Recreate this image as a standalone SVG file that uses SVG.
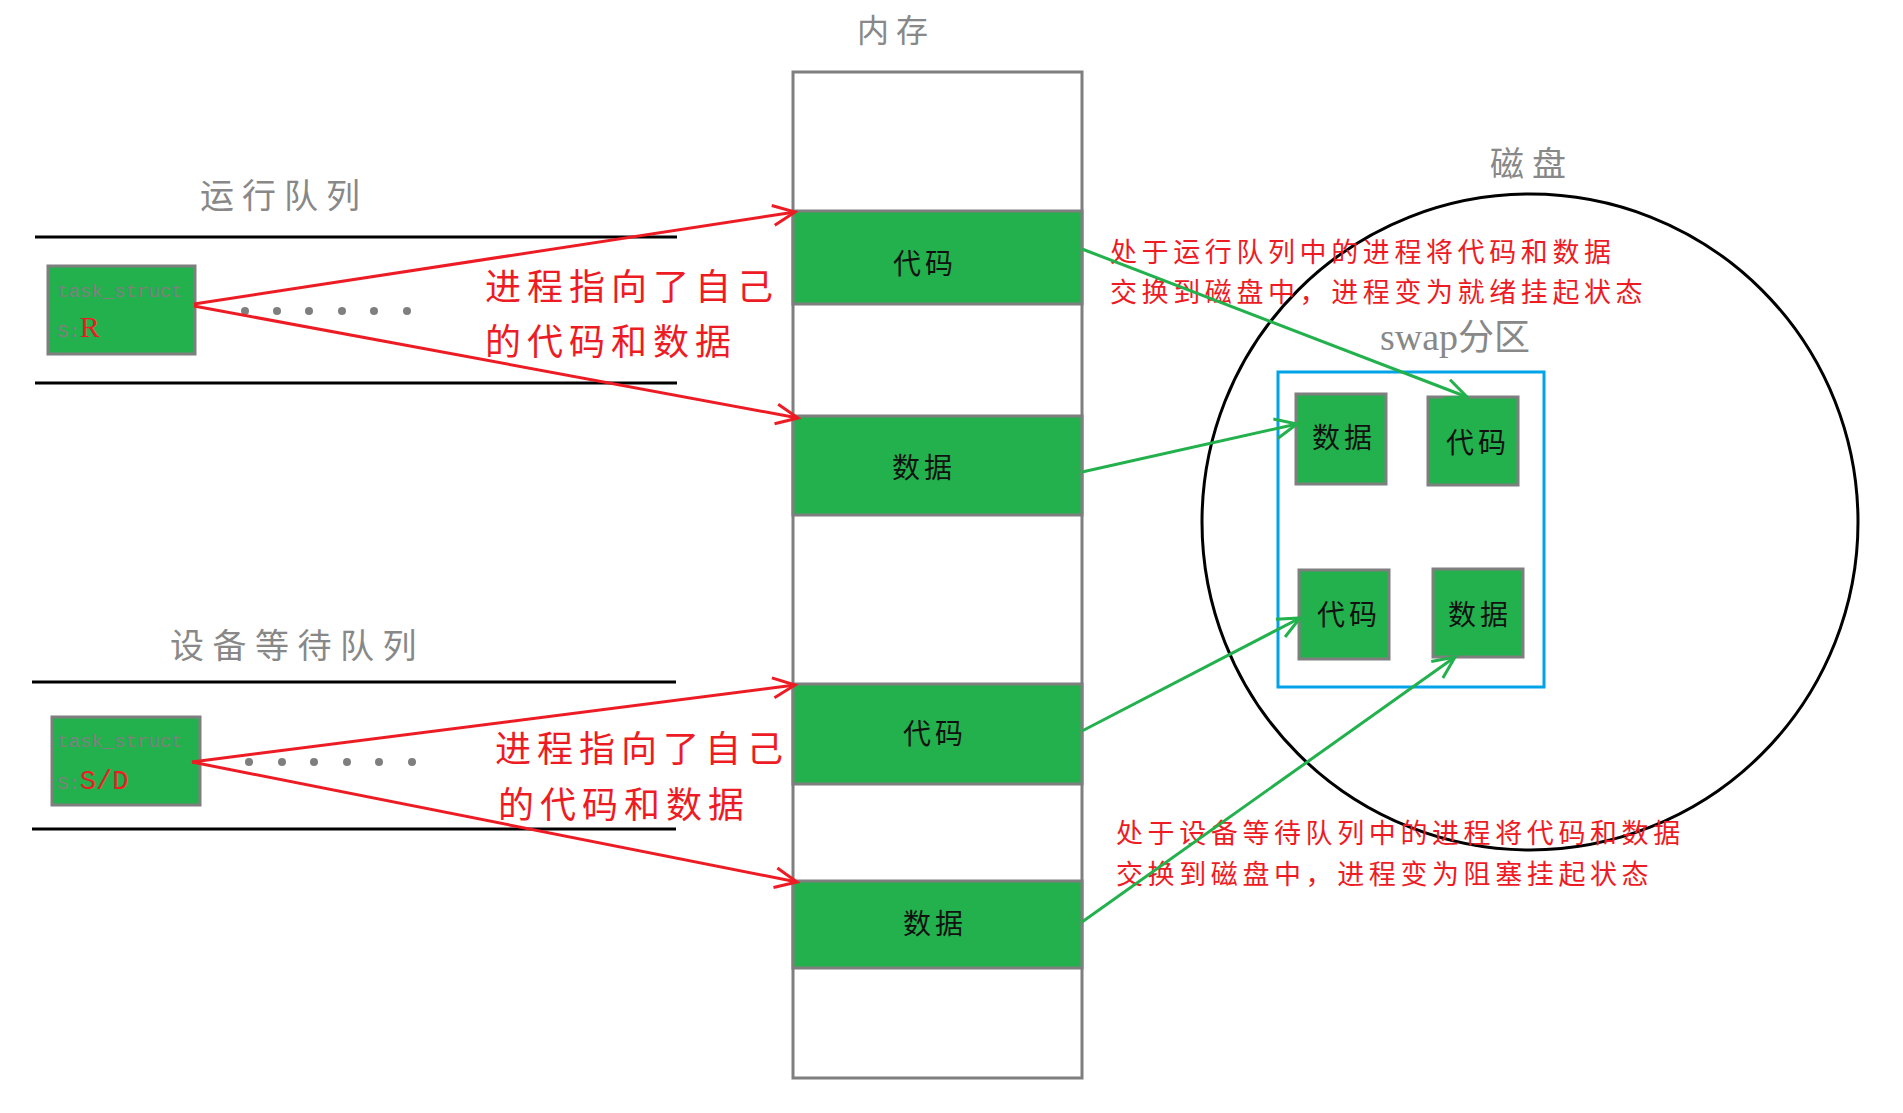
<svg xmlns="http://www.w3.org/2000/svg" width="1903" height="1113" viewBox="0 0 1903 1113">
<style>
.cjk{font-family:"Noto Sans CJK SC","Noto Sans",sans-serif}
.title{fill:#888;font-size:34px;letter-spacing:8px}
.lbl{fill:#ed1c24;font-size:36px;letter-spacing:6px}
.note{fill:#ed1c24;font-size:27px;letter-spacing:4.6px}
.blk{fill:#111;font-size:28px;letter-spacing:4px}
.g{fill:#22b14c;stroke:#7f7f7f;stroke-width:3}
.mem{fill:#fff;stroke:#7f7f7f;stroke-width:3}
.qline{stroke:#000;stroke-width:3}
.red{stroke:#ed1c24;stroke-width:3;fill:none}
.grn{stroke:#22b14c;stroke-width:3;fill:none}
.ts{font-family:"Liberation Mono",monospace;font-size:19px;fill:#7f7f7f}
.dot{fill:#7f7f7f}
</style>
<defs>
<marker id="ar" markerUnits="userSpaceOnUse" markerWidth="30" markerHeight="30" refX="24" refY="12" orient="auto" viewBox="0 0 30 24">
<path d="M2,2 L24,12 L2,22" fill="none" stroke="#ed1c24" stroke-width="3"/>
</marker>
<marker id="ag" markerUnits="userSpaceOnUse" markerWidth="30" markerHeight="30" refX="24" refY="12" orient="auto" viewBox="0 0 30 24">
<path d="M2,2 L24,12 L2,22" fill="none" stroke="#22b14c" stroke-width="3"/>
</marker>
</defs>
<rect width="1903" height="1113" fill="#fff"/>

<g id="memory">
<text class="cjk title" x="857" y="42" style="font-size:32px;letter-spacing:7px">内存</text>
<rect class="mem" x="793" y="72" width="289" height="1006"/>
</g>
<g id="mem-code1"><rect class="g" x="793" y="211" width="289" height="93"/><text class="cjk blk" x="893" y="274">代码</text></g>
<g id="mem-data1"><rect class="g" x="793" y="416" width="289" height="99"/><text class="cjk blk" x="892" y="478">数据</text></g>
<g id="mem-code2"><rect class="g" x="793" y="684" width="289" height="100"/><text class="cjk blk" x="903" y="744">代码</text></g>
<g id="mem-data2"><rect class="g" x="793" y="881" width="289" height="87"/><text class="cjk blk" x="903" y="934">数据</text></g>

<g id="run-queue">
<text class="cjk title" x="200" y="208">运行队列</text>
<line class="qline" x1="35" y1="237" x2="677" y2="237"/>
<line class="qline" x1="35" y1="383" x2="677" y2="383"/>
<circle class="dot" cx="245" cy="311" r="4"/><circle class="dot" cx="277" cy="311" r="4"/><circle class="dot" cx="309" cy="311" r="4"/><circle class="dot" cx="342" cy="311" r="4"/><circle class="dot" cx="374" cy="311" r="4"/><circle class="dot" cx="407" cy="311" r="4"/>
</g>
<g id="task1">
<rect class="g" x="48" y="266" width="147" height="88"/>
<text class="ts" x="57" y="297">task_struct</text>
<text class="ts" x="57" y="337">S:<tspan style="font-family:'Liberation Serif',serif;font-size:30px;fill:#ed1c24">R</tspan></text>
</g>

<g id="wait-queue">
<text class="cjk title" x="170" y="658" style="letter-spacing:8.5px">设备等待队列</text>
<line class="qline" x1="32" y1="682" x2="676" y2="682"/>
<line class="qline" x1="32" y1="829" x2="676" y2="829"/>
<circle class="dot" cx="249" cy="762" r="4"/><circle class="dot" cx="282" cy="762" r="4"/><circle class="dot" cx="314" cy="762" r="4"/><circle class="dot" cx="347" cy="762" r="4"/><circle class="dot" cx="379" cy="762" r="4"/><circle class="dot" cx="412" cy="762" r="4"/>
</g>
<g id="task2">
<rect class="g" x="52" y="717" width="148" height="88"/>
<text class="ts" x="57" y="747">task_struct</text>
<text class="ts" x="57" y="789">S:<tspan style="font-size:27px;fill:#ed1c24">S/D</tspan></text>
</g>

<g id="disk">
<text class="cjk title" x="1490" y="176">磁盘</text>
<ellipse cx="1530" cy="522" rx="328" ry="328" fill="none" stroke="#000" stroke-width="3"/>
</g>
<g id="swap">
<text x="1380" y="350" style="font-family:'Liberation Serif','Noto Sans CJK SC',serif;font-size:38px;fill:#888">swap<tspan class="cjk" style="font-size:36px">分区</tspan></text>
<rect x="1278" y="372" width="266" height="315" fill="none" stroke="#00a2e8" stroke-width="3"/>
</g>
<g id="swap-data1"><rect class="g" x="1296" y="394" width="90" height="90"/><text class="cjk blk" x="1312" y="448">数据</text></g>
<g id="swap-code1"><rect class="g" x="1428" y="397" width="90" height="88"/><text class="cjk blk" x="1446" y="453">代码</text></g>
<g id="swap-code2"><rect class="g" x="1299" y="570" width="90" height="89"/><text class="cjk blk" x="1317" y="625">代码</text></g>
<g id="swap-data2"><rect class="g" x="1433" y="569" width="90" height="88"/><text class="cjk blk" x="1448" y="625">数据</text></g>

<g id="labels">
<text class="cjk lbl" x="485" y="300">进程指向了自己</text>
<text class="cjk lbl" x="485" y="355">的代码和数据</text>
<text class="cjk lbl" x="495" y="762">进程指向了自己</text>
<text class="cjk lbl" x="498" y="818">的代码和数据</text>
<text class="cjk note" x="1110" y="262">处于运行队列中的进程将代码和数据</text>
<text class="cjk note" x="1110" y="302">交换到磁盘中，进程变为就绪挂起状态</text>
<text class="cjk note" x="1116" y="843">处于设备等待队列中的进程将代码和数据</text>
<text class="cjk note" x="1116" y="884">交换到磁盘中，进程变为阻塞挂起状态</text>
</g>

<g id="connectors">
<line class="red" x1="194" y1="304" x2="795" y2="212" marker-end="url(#ar)"/>
<line class="red" x1="194" y1="306" x2="798" y2="418" marker-end="url(#ar)"/>
<line class="red" x1="192" y1="762" x2="795" y2="685" marker-end="url(#ar)"/>
<line class="red" x1="192" y1="762" x2="797" y2="882" marker-end="url(#ar)"/>
<line class="grn" x1="1082" y1="249" x2="1467" y2="397" marker-end="url(#ag)"/>
<line class="grn" x1="1082" y1="472" x2="1297" y2="424" marker-end="url(#ag)"/>
<line class="grn" x1="1082" y1="731" x2="1300" y2="618" marker-end="url(#ag)"/>
<line class="grn" x1="1082" y1="922" x2="1455" y2="657" marker-end="url(#ag)"/>
</g>
</svg>
